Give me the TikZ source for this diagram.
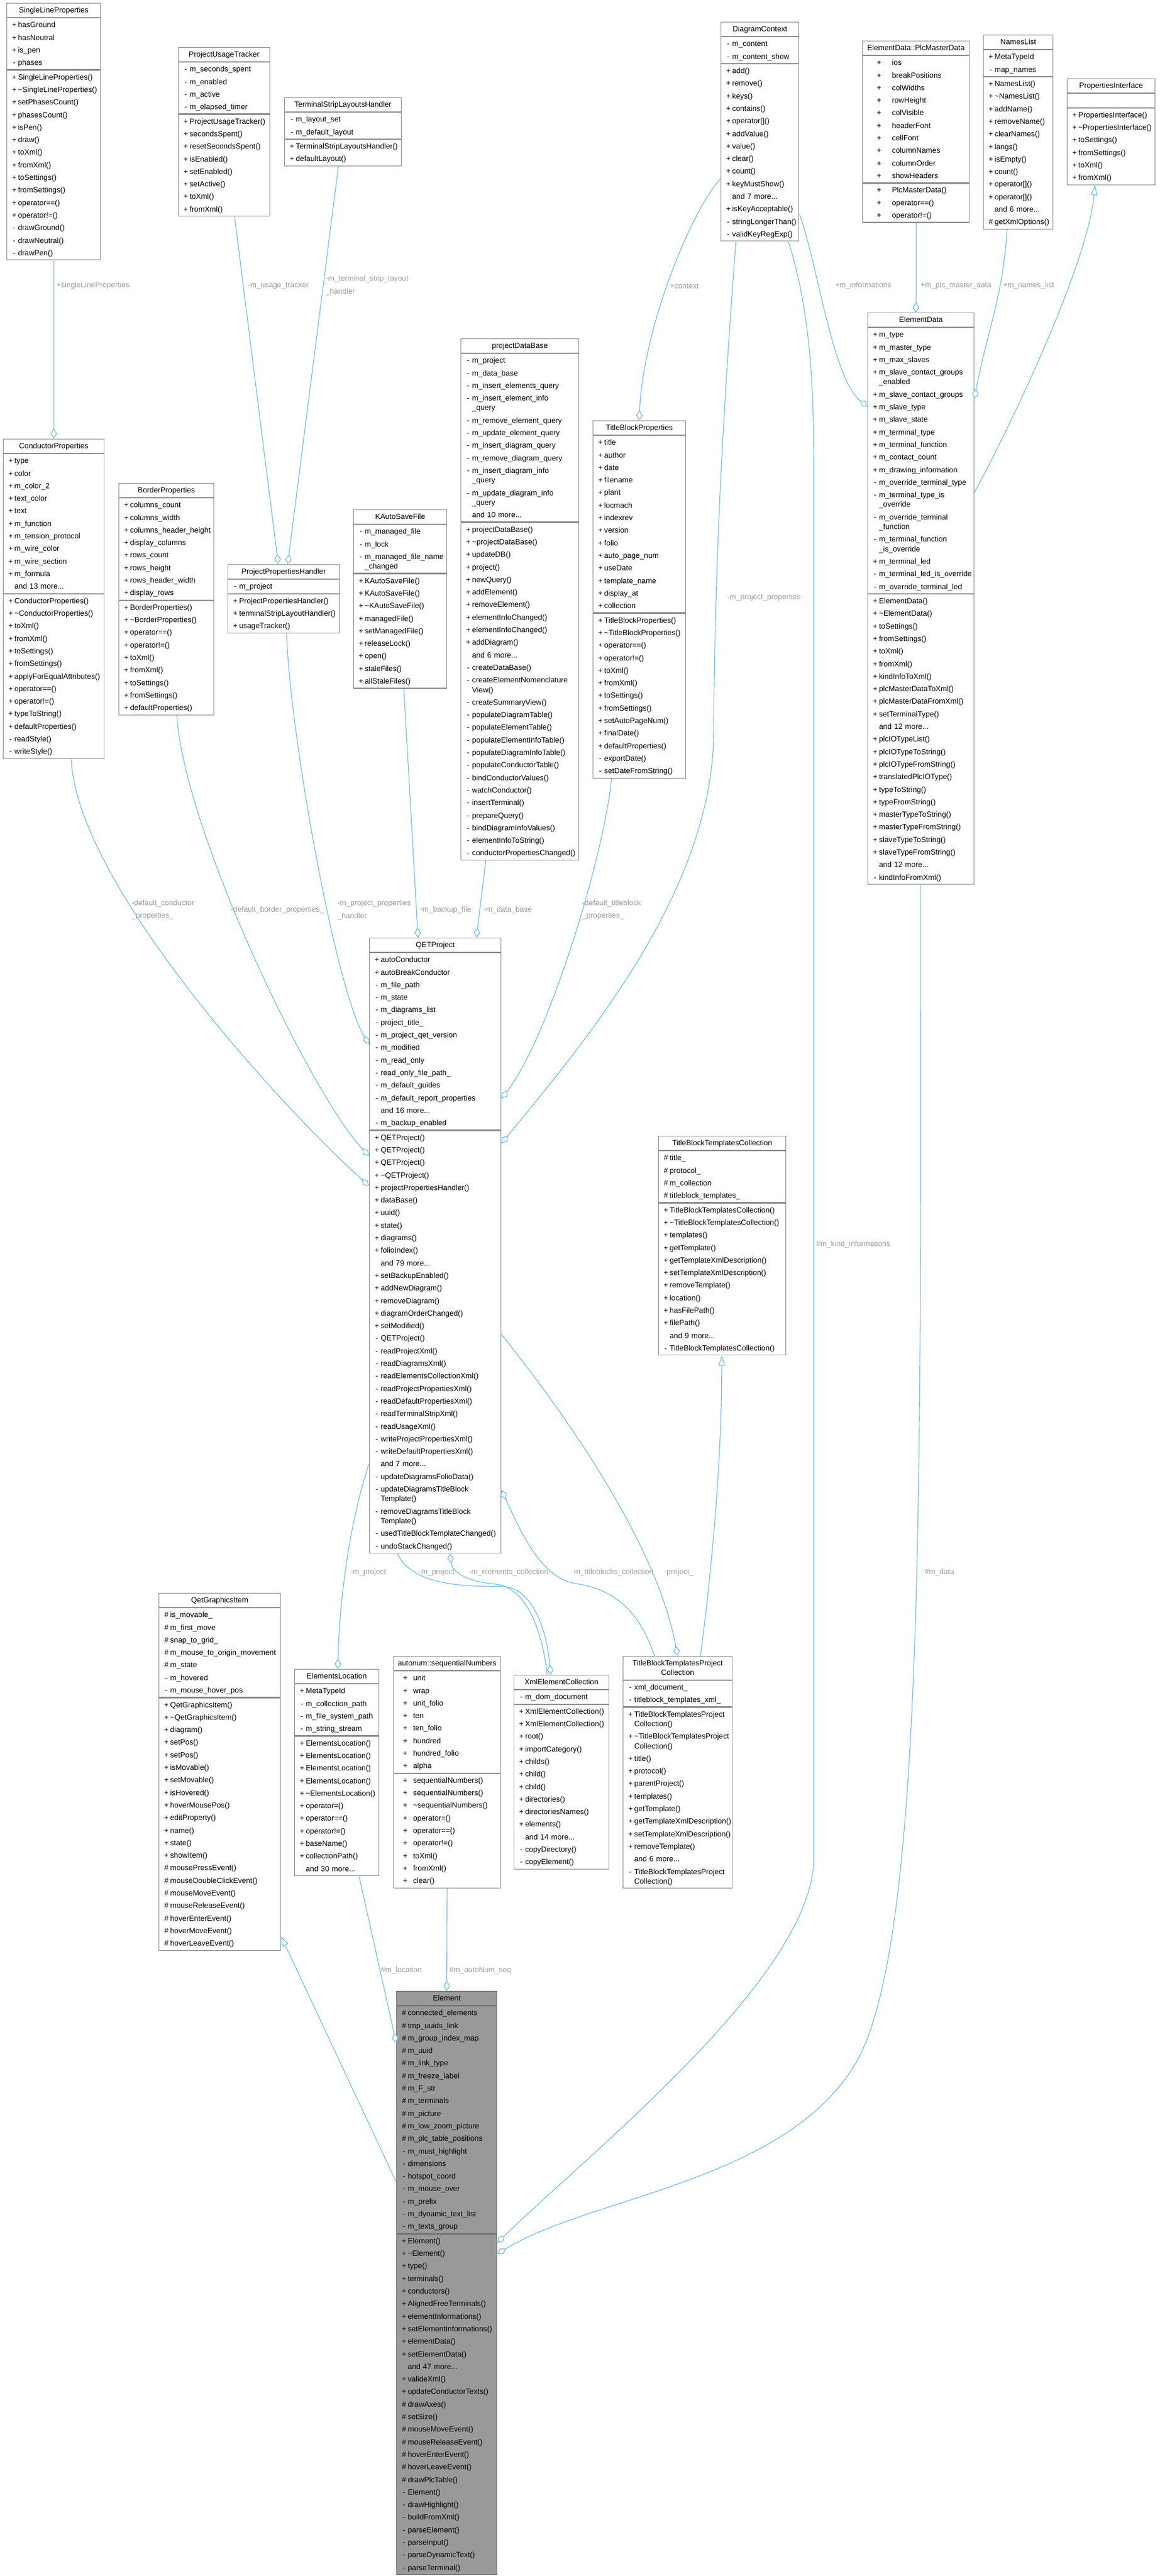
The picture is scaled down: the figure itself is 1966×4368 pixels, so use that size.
\documentclass[tikz,border=0pt]{standalone}
\usepackage{fontspec}
\setmainfont{Liberation Sans}
\usetikzlibrary{arrows.meta,calc,fit}
\definecolor{boxline}{HTML}{8C8C8C}
\definecolor{edgeblue}{HTML}{63B8FF}
\definecolor{lblgray}{HTML}{9A9A9A}
\definecolor{focalfill}{HTML}{999999}
\definecolor{focalline}{HTML}{666666}
\newcommand{\clsfont}{\fontsize{12.8pt}{21.3pt}\selectfont}
\newlength{\visw}
\setlength{\visw}{13pt}
\newcommand{\vis}[1]{\strut\makebox[\visw][c]{#1}}
\newcommand{\cont}[1]{\\[-5pt]\strut\hspace*{\visw}#1}
% class box: [style] name x y width title attributes methods
\newcommand{\umlclass}[8][]{%
  \pgfmathsetmacro{\clstw}{#5-12}%
  \node[clstitle,#1,text width=\clstw pt] (#2-t) at (#3,#4) {\strut #6};
  \node[clssec,#1,text width=\clstw pt] (#2-a) at (#2-t.south west) {#7};
  \node[clssec,#1,text width=\clstw pt] (#2-m) at (#2-a.south west) {#8};
  \node[fit=(#2-t)(#2-a)(#2-m),inner sep=0pt] (#2) {};
}
\begin{document}
\begin{tikzpicture}[x=1pt,y=-1pt,
  clstitle/.style={draw=boxline,fill=white,line width=1.2pt,anchor=north west,inner xsep=6pt,inner ysep=1pt,minimum height=24pt,align=center,font=\clsfont},
  clssec/.style={draw=boxline,fill=white,line width=1.2pt,anchor=north west,inner xsep=6pt,inner ysep=1pt,align=left,font=\clsfont},
  focal/.style={fill=focalfill,draw=focalline},
  widevis/.style={execute at begin node={\setlength{\visw}{#1}}},
  rel/.style={draw=edgeblue,line width=1.1pt},
  aggr/.style={rel,-{Diamond[fill=white,length=17pt,width=11pt]}},
  inh/.style={rel,-{Triangle[fill=white,length=17pt,width=11pt]}},
  lbl/.style={text=lblgray,font=\clsfont,anchor=west,inner sep=0pt,align=left}]
\fill[white] (0,0) rectangle (1966,4368);
\useasboundingbox (0,0) rectangle (1966,4368);

\umlclass{slp}{11}{5}{159}{SingleLineProperties}
{\vis{+}hasGround\\ \vis{+}hasNeutral\\ \vis{+}is\_pen\\ \vis{-}phases}
{\vis{+}SingleLineProperties()\\ \vis{+}\textasciitilde SingleLineProperties()\\ \vis{+}setPhasesCount()\\ \vis{+}phasesCount()\\ \vis{+}isPen()\\ \vis{+}draw()\\ \vis{+}toXml()\\ \vis{+}fromXml()\\ \vis{+}toSettings()\\ \vis{+}fromSettings()\\ \vis{+}operator==()\\ \vis{+}operator!=()\\ \vis{-}drawGround()\\ \vis{-}drawNeutral()\\ \vis{-}drawPen()}

\umlclass{put}{302}{80}{155}{ProjectUsageTracker}
{\vis{-}m\_seconds\_spent\\ \vis{-}m\_enabled\\ \vis{-}m\_active\\ \vis{-}m\_elapsed\_timer}
{\vis{+}ProjectUsageTracker()\\ \vis{+}secondsSpent()\\ \vis{+}resetSecondsSpent()\\ \vis{+}isEnabled()\\ \vis{+}setEnabled()\\ \vis{+}setActive()\\ \vis{+}toXml()\\ \vis{+}fromXml()}

\umlclass{tslh}{482}{165}{198}{TerminalStripLayoutsHandler}
{\vis{-}m\_layout\_set\\ \vis{-}m\_default\_layout}
{\vis{+}TerminalStripLayoutsHandler()\\ \vis{+}defaultLayout()}

\umlclass{dc}{1222}{37}{132}{DiagramContext}
{\vis{-}m\_content\\ \vis{-}m\_content\_show}
{\vis{+}add()\\ \vis{+}remove()\\ \vis{+}keys()\\ \vis{+}contains()\\ \vis{+}operator[]()\\ \vis{+}addValue()\\ \vis{+}value()\\ \vis{+}clear()\\ \vis{+}count()\\ \vis{+}keyMustShow()\\ \vis{}and 7 more...\\ \vis{+}isKeyAcceptable()\\ \vis{-}stringLongerThan()\\ \vis{-}validKeyRegExp()}

\umlclass[widevis=44pt]{pmd}{1462}{69}{181}{ElementData::PlcMasterData}
{\vis{+}ios\\ \vis{+}breakPositions\\ \vis{+}colWidths\\ \vis{+}rowHeight\\ \vis{+}colVisible\\ \vis{+}headerFont\\ \vis{+}cellFont\\ \vis{+}columnNames\\ \vis{+}columnOrder\\ \vis{+}showHeaders}
{\vis{+}PlcMasterData()\\ \vis{+}operator==()\\ \vis{+}operator!=()}

\umlclass{nl}{1667}{59}{118}{NamesList}
{\vis{+}MetaTypeId\\ \vis{-}map\_names}
{\vis{+}NamesList()\\ \vis{+}\textasciitilde NamesList()\\ \vis{+}addName()\\ \vis{+}removeName()\\ \vis{+}clearNames()\\ \vis{+}langs()\\ \vis{+}isEmpty()\\ \vis{+}count()\\ \vis{+}operator[]()\\ \vis{+}operator[]()\\ \vis{}and 6 more...\\ \vis{\#}getXmlOptions()}

\umlclass{pi}{1809}{133}{149}{PropertiesInterface}
{\strut}
{\vis{+}PropertiesInterface()\\ \vis{+}\textasciitilde PropertiesInterface()\\ \vis{+}toSettings()\\ \vis{+}fromSettings()\\ \vis{+}toXml()\\ \vis{+}fromXml()}

\umlclass{ed}{1471}{530}{180}{ElementData}
{\vis{+}m\_type\\ \vis{+}m\_master\_type\\ \vis{+}m\_max\_slaves\\ \vis{+}m\_slave\_contact\_groups\cont{\_enabled}\\ \vis{+}m\_slave\_contact\_groups\\ \vis{+}m\_slave\_type\\ \vis{+}m\_slave\_state\\ \vis{+}m\_terminal\_type\\ \vis{+}m\_terminal\_function\\ \vis{+}m\_contact\_count\\ \vis{+}m\_drawing\_information\\ \vis{-}m\_override\_terminal\_type\\ \vis{-}m\_terminal\_type\_is\cont{\_override}\\ \vis{-}m\_override\_terminal\cont{\_function}\\ \vis{-}m\_terminal\_function\cont{\_is\_override}\\ \vis{+}m\_terminal\_led\\ \vis{-}m\_terminal\_led\_is\_override\\ \vis{-}m\_override\_terminal\_led}
{\vis{+}ElementData()\\ \vis{+}\textasciitilde ElementData()\\ \vis{+}toSettings()\\ \vis{+}fromSettings()\\ \vis{+}toXml()\\ \vis{+}fromXml()\\ \vis{+}kindInfoToXml()\\ \vis{+}plcMasterDataToXml()\\ \vis{+}plcMasterDataFromXml()\\ \vis{+}setTerminalType()\\ \vis{}and 12 more...\\ \vis{+}plcIOTypeList()\\ \vis{+}plcIOTypeToString()\\ \vis{+}plcIOTypeFromString()\\ \vis{+}translatedPlcIOType()\\ \vis{+}typeToString()\\ \vis{+}typeFromString()\\ \vis{+}masterTypeToString()\\ \vis{+}masterTypeFromString()\\ \vis{+}slaveTypeToString()\\ \vis{+}slaveTypeFromString()\\ \vis{}and 12 more...\\ \vis{-}kindInfoFromXml()}

\umlclass{cp}{5}{744}{171}{ConductorProperties}
{\vis{+}type\\ \vis{+}color\\ \vis{+}m\_color\_2\\ \vis{+}text\_color\\ \vis{+}text\\ \vis{+}m\_function\\ \vis{+}m\_tension\_protocol\\ \vis{+}m\_wire\_color\\ \vis{+}m\_wire\_section\\ \vis{+}m\_formula\\ \vis{}and 13 more...}
{\vis{+}ConductorProperties()\\ \vis{+}\textasciitilde ConductorProperties()\\ \vis{+}toXml()\\ \vis{+}fromXml()\\ \vis{+}toSettings()\\ \vis{+}fromSettings()\\ \vis{+}applyForEqualAttributes()\\ \vis{+}operator==()\\ \vis{+}operator!=()\\ \vis{+}typeToString()\\ \vis{+}defaultProperties()\\ \vis{-}readStyle()\\ \vis{-}writeStyle()}

\umlclass{bp}{201}{819}{161}{BorderProperties}
{\vis{+}columns\_count\\ \vis{+}columns\_width\\ \vis{+}columns\_header\_height\\ \vis{+}display\_columns\\ \vis{+}rows\_count\\ \vis{+}rows\_height\\ \vis{+}rows\_header\_width\\ \vis{+}display\_rows}
{\vis{+}BorderProperties()\\ \vis{+}\textasciitilde BorderProperties()\\ \vis{+}operator==()\\ \vis{+}operator!=()\\ \vis{+}toXml()\\ \vis{+}fromXml()\\ \vis{+}toSettings()\\ \vis{+}fromSettings()\\ \vis{+}defaultProperties()}

\umlclass{pph}{386}{957}{189}{ProjectPropertiesHandler}
{\vis{-}m\_project}
{\vis{+}ProjectPropertiesHandler()\\ \vis{+}terminalStripLayoutHandler()\\ \vis{+}usageTracker()}

\umlclass{kasf}{599}{864}{158}{KAutoSaveFile}
{\vis{-}m\_managed\_file\\ \vis{-}m\_lock\\ \vis{-}m\_managed\_file\_name\cont{\_changed}}
{\vis{+}KAutoSaveFile()\\ \vis{+}KAutoSaveFile()\\ \vis{+}\textasciitilde KAutoSaveFile()\\ \vis{+}managedFile()\\ \vis{+}setManagedFile()\\ \vis{+}releaseLock()\\ \vis{+}open()\\ \vis{+}staleFiles()\\ \vis{+}allStaleFiles()}

\umlclass{pdb}{781}{574}{200}{projectDataBase}
{\vis{-}m\_project\\ \vis{-}m\_data\_base\\ \vis{-}m\_insert\_elements\_query\\ \vis{-}m\_insert\_element\_info\cont{\_query}\\ \vis{-}m\_remove\_element\_query\\ \vis{-}m\_update\_element\_query\\ \vis{-}m\_insert\_diagram\_query\\ \vis{-}m\_remove\_diagram\_query\\ \vis{-}m\_insert\_diagram\_info\cont{\_query}\\ \vis{-}m\_update\_diagram\_info\cont{\_query}\\ \vis{}and 10 more...}
{\vis{+}projectDataBase()\\ \vis{+}\textasciitilde projectDataBase()\\ \vis{+}updateDB()\\ \vis{+}project()\\ \vis{+}newQuery()\\ \vis{+}addElement()\\ \vis{+}removeElement()\\ \vis{+}elementInfoChanged()\\ \vis{+}elementInfoChanged()\\ \vis{+}addDiagram()\\ \vis{}and 6 more...\\ \vis{-}createDataBase()\\ \vis{-}createElementNomenclature\cont{View()}\\ \vis{-}createSummaryView()\\ \vis{-}populateDiagramTable()\\ \vis{-}populateElementTable()\\ \vis{-}populateElementInfoTable()\\ \vis{-}populateDiagramInfoTable()\\ \vis{-}populateConductorTable()\\ \vis{-}bindConductorValues()\\ \vis{-}watchConductor()\\ \vis{-}insertTerminal()\\ \vis{-}prepareQuery()\\ \vis{-}bindDiagramInfoValues()\\ \vis{-}elementInfoToString()\\ \vis{-}conductorPropertiesChanged()}

\umlclass{tbp}{1005}{713}{157}{TitleBlockProperties}
{\vis{+}title\\ \vis{+}author\\ \vis{+}date\\ \vis{+}filename\\ \vis{+}plant\\ \vis{+}locmach\\ \vis{+}indexrev\\ \vis{+}version\\ \vis{+}folio\\ \vis{+}auto\_page\_num\\ \vis{+}useDate\\ \vis{+}template\_name\\ \vis{+}display\_at\\ \vis{+}collection}
{\vis{+}TitleBlockProperties()\\ \vis{+}\textasciitilde TitleBlockProperties()\\ \vis{+}operator==()\\ \vis{+}operator!=()\\ \vis{+}toXml()\\ \vis{+}fromXml()\\ \vis{+}toSettings()\\ \vis{+}fromSettings()\\ \vis{+}setAutoPageNum()\\ \vis{+}finalDate()\\ \vis{+}defaultProperties()\\ \vis{-}exportDate()\\ \vis{-}setDateFromString()}

\umlclass{qp}{626}{1590}{223}{QETProject}
{\vis{+}autoConductor\\ \vis{+}autoBreakConductor\\ \vis{-}m\_file\_path\\ \vis{-}m\_state\\ \vis{-}m\_diagrams\_list\\ \vis{-}project\_title\_\\ \vis{-}m\_project\_qet\_version\\ \vis{-}m\_modified\\ \vis{-}m\_read\_only\\ \vis{-}read\_only\_file\_path\_\\ \vis{-}m\_default\_guides\\ \vis{-}m\_default\_report\_properties\\ \vis{}and 16 more...\\ \vis{-}m\_backup\_enabled}
{\vis{+}QETProject()\\ \vis{+}QETProject()\\ \vis{+}QETProject()\\ \vis{+}\textasciitilde QETProject()\\ \vis{+}projectPropertiesHandler()\\ \vis{+}dataBase()\\ \vis{+}uuid()\\ \vis{+}state()\\ \vis{+}diagrams()\\ \vis{+}folioIndex()\\ \vis{}and 79 more...\\ \vis{+}setBackupEnabled()\\ \vis{+}addNewDiagram()\\ \vis{+}removeDiagram()\\ \vis{+}diagramOrderChanged()\\ \vis{+}setModified()\\ \vis{-}QETProject()\\ \vis{-}readProjectXml()\\ \vis{-}readDiagramsXml()\\ \vis{-}readElementsCollectionXml()\\ \vis{-}readProjectPropertiesXml()\\ \vis{-}readDefaultPropertiesXml()\\ \vis{-}readTerminalStripXml()\\ \vis{-}readUsageXml()\\ \vis{-}writeProjectPropertiesXml()\\ \vis{-}writeDefaultPropertiesXml()\\ \vis{}and 7 more...\\ \vis{-}updateDiagramsFolioData()\\ \vis{-}updateDiagramsTitleBlock\cont{Template()}\\ \vis{-}removeDiagramsTitleBlock\cont{Template()}\\ \vis{-}usedTitleBlockTemplateChanged()\\ \vis{-}undoStackChanged()}

\umlclass{tbtc}{1116}{1926}{216}{TitleBlockTemplatesCollection}
{\vis{\#}title\_\\ \vis{\#}protocol\_\\ \vis{\#}m\_collection\\ \vis{\#}titleblock\_templates\_}
{\vis{+}TitleBlockTemplatesCollection()\\ \vis{+}\textasciitilde TitleBlockTemplatesCollection()\\ \vis{+}templates()\\ \vis{+}getTemplate()\\ \vis{+}getTemplateXmlDescription()\\ \vis{+}setTemplateXmlDescription()\\ \vis{+}removeTemplate()\\ \vis{+}location()\\ \vis{+}hasFilePath()\\ \vis{+}filePath()\\ \vis{}and 9 more...\\ \vis{-}TitleBlockTemplatesCollection()}

\umlclass{qgi}{269}{2701}{206}{QetGraphicsItem}
{\vis{\#}is\_movable\_\\ \vis{\#}m\_first\_move\\ \vis{\#}snap\_to\_grid\_\\ \vis{\#}m\_mouse\_to\_origin\_movement\\ \vis{\#}m\_state\\ \vis{-}m\_hovered\\ \vis{-}m\_mouse\_hover\_pos}
{\vis{+}QetGraphicsItem()\\ \vis{+}\textasciitilde QetGraphicsItem()\\ \vis{+}diagram()\\ \vis{+}setPos()\\ \vis{+}setPos()\\ \vis{+}isMovable()\\ \vis{+}setMovable()\\ \vis{+}isHovered()\\ \vis{+}hoverMousePos()\\ \vis{+}editProperty()\\ \vis{+}name()\\ \vis{+}state()\\ \vis{+}showItem()\\ \vis{\#}mousePressEvent()\\ \vis{\#}mouseDoubleClickEvent()\\ \vis{\#}mouseMoveEvent()\\ \vis{\#}mouseReleaseEvent()\\ \vis{\#}hoverEnterEvent()\\ \vis{\#}hoverMoveEvent()\\ \vis{\#}hoverLeaveEvent()}

\umlclass{el}{499}{2830}{143}{ElementsLocation}
{\vis{+}MetaTypeId\\ \vis{-}m\_collection\_path\\ \vis{-}m\_file\_system\_path\\ \vis{-}m\_string\_stream}
{\vis{+}ElementsLocation()\\ \vis{+}ElementsLocation()\\ \vis{+}ElementsLocation()\\ \vis{+}ElementsLocation()\\ \vis{+}\textasciitilde ElementsLocation()\\ \vis{+}operator=()\\ \vis{+}operator==()\\ \vis{+}operator!=()\\ \vis{+}baseName()\\ \vis{+}collectionPath()\\ \vis{}and 30 more...}

\umlclass[widevis=27pt]{sn}{667}{2808}{181}{autonum::sequentialNumbers}
{\vis{+}unit\\ \vis{+}wrap\\ \vis{+}unit\_folio\\ \vis{+}ten\\ \vis{+}ten\_folio\\ \vis{+}hundred\\ \vis{+}hundred\_folio\\ \vis{+}alpha}
{\vis{+}sequentialNumbers()\\ \vis{+}sequentialNumbers()\\ \vis{+}\textasciitilde sequentialNumbers()\\ \vis{+}operator=()\\ \vis{+}operator==()\\ \vis{+}operator!=()\\ \vis{+}toXml()\\ \vis{+}fromXml()\\ \vis{+}clear()}

\umlclass{xec}{871}{2840}{161}{XmlElementCollection}
{\vis{-}m\_dom\_document}
{\vis{+}XmlElementCollection()\\ \vis{+}XmlElementCollection()\\ \vis{+}root()\\ \vis{+}importCategory()\\ \vis{+}childs()\\ \vis{+}child()\\ \vis{+}child()\\ \vis{+}directories()\\ \vis{+}directoriesNames()\\ \vis{+}elements()\\ \vis{}and 14 more...\\ \vis{-}copyDirectory()\\ \vis{-}copyElement()}

\umlclass{tbtpc}{1056}{2808}{185}{TitleBlockTemplatesProject\\[-5pt]\strut Collection}
{\vis{-}xml\_document\_\\ \vis{-}titleblock\_templates\_xml\_}
{\vis{+}TitleBlockTemplatesProject\cont{Collection()}\\ \vis{+}\textasciitilde TitleBlockTemplatesProject\cont{Collection()}\\ \vis{+}title()\\ \vis{+}protocol()\\ \vis{+}parentProject()\\ \vis{+}templates()\\ \vis{+}getTemplate()\\ \vis{+}getTemplateXmlDescription()\\ \vis{+}setTemplateXmlDescription()\\ \vis{+}removeTemplate()\\ \vis{}and 6 more...\\ \vis{-}TitleBlockTemplatesProject\cont{Collection()}}

\umlclass[focal]{elem}{672}{3376}{170}{Element}
{\vis{\#}connected\_elements\\ \vis{\#}tmp\_uuids\_link\\ \vis{\#}m\_group\_index\_map\\ \vis{\#}m\_uuid\\ \vis{\#}m\_link\_type\\ \vis{\#}m\_freeze\_label\\ \vis{\#}m\_F\_str\\ \vis{\#}m\_terminals\\ \vis{\#}m\_picture\\ \vis{\#}m\_low\_zoom\_picture\\ \vis{\#}m\_plc\_table\_positions\\ \vis{-}m\_must\_highlight\\ \vis{-}dimensions\\ \vis{-}hotspot\_coord\\ \vis{-}m\_mouse\_over\\ \vis{-}m\_prefix\\ \vis{-}m\_dynamic\_text\_list\\ \vis{-}m\_texts\_group}
{\vis{+}Element()\\ \vis{+}\textasciitilde Element()\\ \vis{+}type()\\ \vis{+}terminals()\\ \vis{+}conductors()\\ \vis{+}AlignedFreeTerminals()\\ \vis{+}elementInformations()\\ \vis{+}setElementInformations()\\ \vis{+}elementData()\\ \vis{+}setElementData()\\ \vis{}and 47 more...\\ \vis{+}valideXml()\\ \vis{+}updateConductorTexts()\\ \vis{\#}drawAxes()\\ \vis{\#}setSize()\\ \vis{\#}mouseMoveEvent()\\ \vis{\#}mouseReleaseEvent()\\ \vis{\#}hoverEnterEvent()\\ \vis{\#}hoverLeaveEvent()\\ \vis{\#}drawPlcTable()\\ \vis{-}Element()\\ \vis{-}drawHighlight()\\ \vis{-}buildFromXml()\\ \vis{-}parseElement()\\ \vis{-}parseInput()\\ \vis{-}parseDynamicText()\\ \vis{-}parseTerminal()}

% relations
\draw[aggr] (slp.south) -- (cp.north);
\draw[aggr] ($(put.south west)+(96,0)$) -- ($(pph.north west)+(86,0)$);
\draw[aggr] ($(tslh.south west)+(92,0)$) -- ($(pph.north west)+(102,0)$);
\draw[aggr] ($(cp.south west)+(116,0)$) .. controls (130,1500) and (480,1880) .. ($(qp.north west)+(0,421)$);
\draw[aggr] ($(bp.south west)+(99,0)$) .. controls (312,1410) and (530,1860) .. ($(qp.north west)+(0,370)$);
\draw[aggr] ($(pph.south west)+(100,0)$) .. controls (492,1250) and (570,1680) .. ($(qp.north west)+(0,181)$);
\draw[aggr] ($(kasf.south west)+(86,0)$) -- ($(qp.north west)+(83,0)$);
\draw[aggr] ($(pdb.south west)+(43,0)$) -- ($(qp.north west)+(182,0)$);
\draw[aggr] ($(tbp.south west)+(32,0)$) .. controls (1025,1450) and (930,1760) .. ($(qp.north east)+(0,273)$);
\draw[aggr] ($(dc.north west)+(0,266)$) .. controls (1170,360) and (1090,560) .. ($(tbp.north west)+(79,0)$);
\draw[aggr] ($(dc.south west)+(26,0)$) .. controls (1226,700) and (1212,950) .. (1210,1250) .. controls (1205,1520) and (980,1780) .. ($(qp.north east)+(0,349)$);
\draw[aggr] ($(dc.north east)+(0,326)$) .. controls +(30,80) and +(-60,-50) .. ($(ed.north west)+(0,160)$);
\draw[aggr] (pmd.south) -- (pmd.south |- ed.north);
\draw[aggr] ($(nl.south west)+(41,0)$) .. controls +(-8,120) and +(20,-110) .. ($(ed.north east)+(0,146)$);
\draw[inh] ($(ed.north east)+(0,305)$) .. controls +(70,-130) and +(-12,130) .. ($(pi.south west)+(48,0)$);
\draw[aggr] ($(dc.south west)+(115,0)$) .. controls (1372,520) and (1380,640) .. (1380,800) -- (1380,3150) .. controls (1380,3350) and (1000,3650) .. ($(elem.north east)+(0,427)$);
\draw[aggr] ($(ed.south west)+(90,0)$) .. controls (1561,2500) and (1570,3300) .. (1450,3500) .. controls (1330,3700) and (1000,3725) .. ($(elem.north east)+(0,446)$);
\draw[aggr] ($(qp.north west)+(0,892)$) .. controls +(-30,90) and +(3,-130) .. ($(el.north west)+(74,0)$);
\draw[aggr] ($(qp.south west)+(48,0)$) .. controls +(25,55) and (790,2690) .. (850,2690) .. controls (905,2690) and (928,2770) .. ($(xec.north west)+(63,0)$);
\draw[aggr] ($(xec.north west)+(57,0)$) .. controls (920,2770) and (895,2692) .. (840,2686) .. controls (790,2682) and (767,2665) .. ($(qp.south west)+(137,0)$);
\draw[aggr] ($(tbtpc.north west)+(54,0)$) .. controls (1085,2735) and (1045,2695) .. (975,2685) .. controls (915,2675) and (880,2590) .. ($(qp.north east)+(0,937)$);
\draw[aggr] ($(qp.north east)+(0,673)$) .. controls (960,2400) and (1115,2620) .. ($(tbtpc.north west)+(93,0)$);
\draw[inh] ($(tbtpc.north west)+(132,0)$) .. controls (1212,2620) and (1224,2450) .. ($(tbtc.south west)+(108,0)$);
\draw[aggr] ($(el.south west)+(110,0)$) -- ($(elem.north west)+(0,88)$);
\draw[aggr] (sn.south) -- (elem.north);
\draw[inh] ($(elem.north west)+(0,324)$) -- ($(qgi.north east)+(0,582)$);

% labels
\node[lbl] (l-slp) at (96,484) {+singleLineProperties};
\node[lbl] (l-put) at (420,484) {-m\_usage\_tracker};
\node[lbl] (l-tslh) at (552,484) {-m\_terminal\_strip\_layout\\\_handler};
\node[lbl] (l-cp) at (223,1543) {-default\_conductor\\\_properties\_};
\node[lbl] (l-bp) at (391,1543) {-default\_border\_properties\_};
\node[lbl] (l-pph) at (572,1543) {-m\_project\_properties\\\_handler};
\node[lbl] (l-kasf) at (712,1543) {-m\_backup\_file};
\node[lbl] (l-pdb) at (820,1543) {-m\_data\_base};
\node[lbl] (l-tbp) at (987,1543) {-default\_titleblock\\\_properties\_};
\node[lbl] (l-ctx) at (1136,485) {+context};
\node[lbl] (l-dcqp) at (1233,1013) {-m\_project\_properties};
\node[lbl] (l-inf) at (1416,484) {+m\_informations};
\node[lbl] (l-pmd) at (1561,484) {+m\_plc\_master\_data};
\node[lbl] (l-nl) at (1701,484) {+m\_names\_list};
\node[lbl] (l-kind) at (1384,2110) {\#m\_kind\_informations};
\node[lbl] (l-data) at (1568,2666) {\#m\_data};
\node[lbl] (l-elqp) at (594,2666) {-m\_project};
\node[lbl] (l-xecqp) at (710,2666) {-m\_project};
\node[lbl] (l-xec) at (795,2666) {-m\_elements\_collection};
\node[lbl] (l-tbc) at (969,2666) {-m\_titleblocks\_collection};
\node[lbl] (l-proj) at (1126,2666) {-project\_};
\node[lbl] (l-loc) at (646,3341) {\#m\_location};
\node[lbl] (l-seq) at (762,3341) {\#m\_autoNum\_seq};
\end{tikzpicture}
\end{document}
